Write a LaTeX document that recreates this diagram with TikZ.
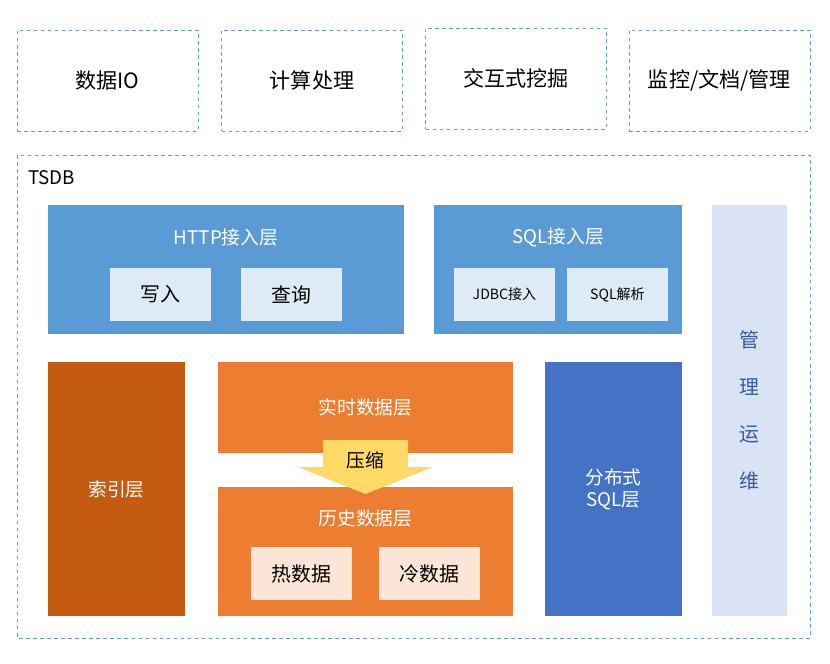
\documentclass[tikz,border=0pt]{standalone}
\usepackage{fontspec}
\setmainfont{Noto Sans CJK SC}
\usetikzlibrary{positioning}
\definecolor{httpblue}{HTML}{5B9BD5}
\definecolor{lightblue}{HTML}{DEEBF7}
\definecolor{opsblue}{HTML}{DAE3F3}
\definecolor{distblue}{HTML}{4472C4}
\definecolor{idxorange}{HTML}{C55A11}
\definecolor{dataorange}{HTML}{ED7D31}
\definecolor{lightorange}{HTML}{FBE5D6}
\definecolor{arrowyellow}{HTML}{FFD966}
\tikzset{
  topbox/.style={draw=httpblue, dashed, minimum width=181*\u, minimum height=101*\u,
    align=center, text width=160*\u, font=\fontsize{18}{20}\selectfont},
  layer/.style={fill=#1, text=white, font=\fontsize{16}{19}\selectfont, align=center},
  subbox/.style={fill=#1, minimum width=101*\u, minimum height=53*\u, font=\fontsize{17}{20}\selectfont}
}
\begin{document}
\begin{tikzpicture}[x=0.03cm, y=-0.03cm]
  \def\u{0.03cm}
  \useasboundingbox (0,0) rectangle (830,664);

  % top row
  \node[topbox] (io)   at (107.5, 80.5) {数据IO};
  \node[topbox] (calc) at (312, 80.5) {计算处理};
  \node[topbox] (mine) at (516, 78.5) {交互式挖掘};
  \node[topbox] (mon)  at (719.5, 80.5) {监控/文档/管理};

  % tsdb frame
  \draw[httpblue, dashed] (17,155) rectangle (810,638);
  \node[font=\fontsize{16}{19}\selectfont, anchor=west] (tsdb) at (24,178) {TSDB};

  % access layers
  \node[layer=httpblue, minimum width=356*\u, minimum height=129*\u] (http) at (226,269.5) {};
  \node[text=white, font=\fontsize{16}{19}\selectfont] (httpt) at (226,237) {HTTP接入层};
  \node[subbox=lightblue] (write) at (160.5,294.5) {写入};
  \node[subbox=lightblue] (query) at (291,294.5) {查询};

  \node[layer=httpblue, minimum width=248*\u, minimum height=129*\u] (sql) at (558,269.5) {};
  \node[text=white, font=\fontsize{16}{19}\selectfont] (sqlt) at (558,237) {SQL接入层};
  \node[subbox=lightblue, font=\fontsize{12}{14}\selectfont] (jdbc) at (504.5,294.5) {JDBC接入};
  \node[subbox=lightblue, font=\fontsize{12}{14}\selectfont] (parse) at (617.5,294.5) {SQL解析};

  % ops
  \node[fill=opsblue, minimum width=75*\u, minimum height=411*\u, text=distblue!80!black,
    align=center, font=\fontsize{17}{40}\selectfont] (ops) at (749.5,410.5) {管\\理\\运\\维};

  % storage layers
  \node[layer=idxorange, minimum width=137*\u, minimum height=254*\u] (idx) at (116.5,489) {索引层};
  \node[layer=dataorange, minimum width=295*\u, minimum height=91*\u] (rt) at (365.5,407.5) {实时数据层};
  \node[layer=dataorange, minimum width=295*\u, minimum height=129*\u] (hist) at (365.5,551.5) {};
  \node[text=white, font=\fontsize{16}{19}\selectfont] (histt) at (365.5,518) {历史数据层};
  \node[subbox=lightorange] (hot)  at (301.5,573.5) {热数据};
  \node[subbox=lightorange] (cold) at (429.5,573.5) {冷数据};
  \node[layer=distblue, minimum width=137*\u, minimum height=254*\u] (dist) at (613.5,489) {分布式\\SQL层};

  % compression arrow
  \fill[arrowyellow] (323,440) -- (408,440) -- (408,467) -- (433,467) -- (365.5,494)
    -- (298,467) -- (323,467) -- cycle;
  \node[font=\fontsize{16}{19}\selectfont] (zip) at (365.5,460) {压缩};
\end{tikzpicture}
\end{document}
